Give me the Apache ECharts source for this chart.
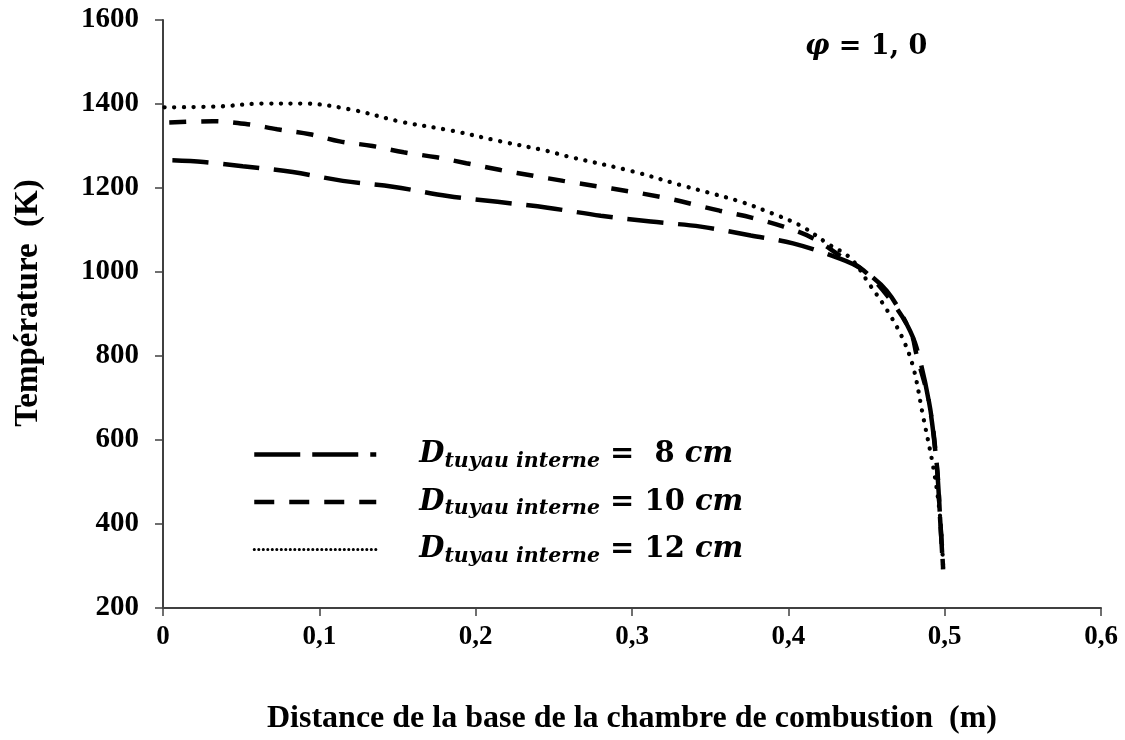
<!DOCTYPE html>
<html><head><meta charset="utf-8">
<script src="https://cdn.jsdelivr.net/npm/echarts/dist/echarts.min.js"></script>
<style>html,body{margin:0;padding:0;background:#fff}#c{width:1125px;height:740px}</style>
</head><body><div id="c"></div>
<script>
// ---- data ----
const seriesNames = ['D8', 'D10', 'D12'];
const d8X = [0.006,0.026,0.051,0.083,0.115,0.147,0.182,0.214,0.246,0.280,0.312,0.344,0.376,0.403,0.433,0.446,0.463,0.476,0.482,0.490,0.495,0.497,0.499];
const d8T = [1266,1262,1252,1238,1217,1203,1181,1167,1153,1134,1120,1108,1087,1068,1032,1009,955,874,820,689,536,417,292];
const d10X = [0.004,0.032,0.054,0.073,0.094,0.113,0.134,0.154,0.175,0.194,0.216,0.237,0.256,0.318,0.356,0.377,0.397,0.416,0.433,0.448,0.463,0.478,0.482,0.490,0.495,0.497,0.499];
const d10T = [1356,1359,1352,1340,1328,1311,1300,1285,1273,1259,1243,1229,1217,1179,1146,1129,1108,1080,1039,1004,945,860,803,690,540,420,295];
const d12X = [0.001,0.035,0.064,0.090,0.120,0.152,0.184,0.216,0.246,0.258,0.300,0.333,0.348,0.369,0.390,0.408,0.425,0.440,0.452,0.463,0.473,0.480,0.486,0.493,0.497,0.499];
const d12T = [1392,1394,1401,1401,1387,1358,1337,1311,1288,1276,1240,1205,1190,1168,1139,1110,1068,1032,970,910,843,772,660,529,420,300];
const legendSizes = ['8', '10', '12'];
const phiLabel = ['φ', ' = 1, 0'];
const xTitle = 'Distance de la base de la chambre de combustion  (m)';
const yTitle = 'Température  (K)';

const pairs = (xs, ys) => xs.map((x, i) => [x, ys[i]]);
const serif = 'Liberation Serif';
const math = 'DejaVu Serif';

const chart = echarts.init(document.getElementById('c'), null, {renderer: 'canvas'});

const styles = [
  {color: '#000', width: 4.5, type: [36, 15], cap: 'butt'},
  {color: '#000', width: 4.5, type: [17, 15], cap: 'butt'},
  {color: '#000', width: 4.3, type: [0.1, 9.6], cap: 'round'}
];
const legendStyles = [
  {color: '#000', width: 4.5, type: [46, 12], cap: 'butt'},
  {color: '#000', width: 4.5, type: [20, 15], cap: 'butt'},
  {color: '#000', width: 3, type: [0.1, 4.4], cap: 'round'}
];

const mkSeries = (i, data) => ({
  name: seriesNames[i], type: 'line', data, showSymbol: false, symbol: 'none',
  smooth: 0.35, lineStyle: styles[i], itemStyle: {color: '#000'}, color: '#000', z: 3
});

chart.setOption({
  animation: false,
  backgroundColor: '#fff',
  grid: {left: 163, right: 24, top: 20, bottom: 128, containLabel: false},
  xAxis: {
    type: 'value', min: 0, max: 0.6, interval: 0.1,
    name: xTitle, nameLocation: 'middle', nameGap: 95,
    nameTextStyle: {fontFamily: serif, fontWeight: 'bold', fontSize: 32, color: '#000'},
    axisLine: {show: true, lineStyle: {color: '#404040', width: 2}},
    axisTick: {show: true, inside: false, length: 8, lineStyle: {color: '#404040', width: 1.5}},
    axisLabel: {fontFamily: serif, fontWeight: 'bold', fontSize: 27, color: '#000', margin: 16,
      formatter: v => (Math.round(v * 10) / 10).toString().replace('.', ',')},
    splitLine: {show: false}
  },
  yAxis: {
    type: 'value', min: 200, max: 1600, interval: 200,
    axisLine: {show: true, lineStyle: {color: '#404040', width: 2}},
    axisTick: {show: true, inside: false, length: 8, lineStyle: {color: '#404040', width: 1.5}},
    axisLabel: {fontFamily: serif, fontWeight: 'bold', fontSize: 29, color: '#000', margin: 24,
      formatter: v => String(v)},
    splitLine: {show: false}
  },
  legend: {
    orient: 'vertical', left: 247, top: 435, itemWidth: 122, itemHeight: 14, itemGap: 16,
    data: seriesNames.map((n, i) => ({name: n, lineStyle: legendStyles[i], itemStyle: {opacity: 0, borderWidth: 0}})),
    itemStyle: {opacity: 0, borderWidth: 0},
    formatter: name => {
      const idx = seriesNames.indexOf(name);
      const n = legendSizes[idx];
      return '{sp|}{d|D}{s|tuyau interne}{e| = ' + (n.length === 1 ? ' ' : '') + '}{n|' + n + ' }{c|cm}';
    },
    textStyle: {
      color: '#000',
      rich: {
        sp: {width: 38},
        d: {fontFamily: math, fontStyle: 'italic', fontWeight: 'bold', fontSize: 29, lineHeight: 34, verticalAlign: 'middle'},
        s: {fontFamily: math, fontStyle: 'italic', fontWeight: 'bold', fontSize: 20.5, lineHeight: 14, verticalAlign: 'bottom'},
        e: {fontFamily: math, fontWeight: 'bold', fontSize: 29, lineHeight: 34, verticalAlign: 'middle'},
        n: {fontFamily: math, fontWeight: 'bold', fontSize: 29, lineHeight: 34, verticalAlign: 'middle'},
        c: {fontFamily: math, fontStyle: 'italic', fontWeight: 'bold', fontSize: 29, lineHeight: 34, verticalAlign: 'middle'}
      }
    }
  },
  graphic: [{
    type: 'text', left: 805, top: 33, z: 10,
    style: {
      text: '{p|' + phiLabel[0] + '}{t|' + phiLabel[1] + '}',
      rich: {
        p: {fontFamily: math, fontStyle: 'italic', fontWeight: 'bold', fontSize: 27, fill: '#000'},
        t: {fontFamily: math, fontWeight: 'bold', fontSize: 27, fill: '#000'}
      }
    }
  }, {
    type: 'text', x: 28, y: 303, rotation: Math.PI / 2, z: 10,
    style: {
      text: yTitle, fontFamily: serif, fontWeight: 'bold', fontSize: 33, fill: '#000',
      align: 'center', verticalAlign: 'middle'
    }
  }],
  series: [
    mkSeries(0, pairs(d8X, d8T)),
    mkSeries(1, pairs(d10X, d10T)),
    mkSeries(2, pairs(d12X, d12T))
  ]
});
</script>
</body></html>
